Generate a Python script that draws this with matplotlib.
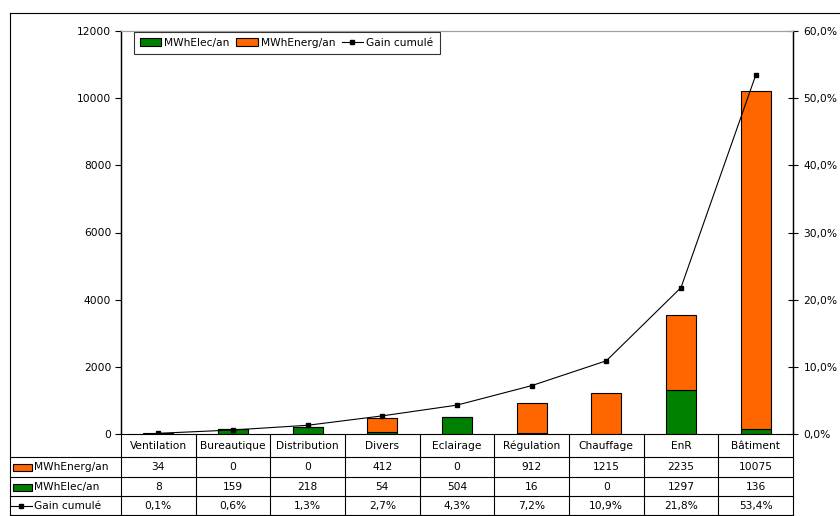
import numpy as np
import matplotlib.pyplot as plt
from matplotlib.lines import Line2D
from matplotlib.patches import Patch, Rectangle
from matplotlib.transforms import blended_transform_factory

categories = ["Ventilation", "Bureautique", "Distribution", "Divers", "Eclairage",
              "Régulation", "Chauffage", "EnR", "Bâtiment"]
mwh_energ = [34, 0, 0, 412, 0, 912, 1215, 2235, 10075]
mwh_elec = [8, 159, 218, 54, 504, 16, 0, 1297, 136]
gain_cumule = [0.1, 0.6, 1.3, 2.7, 4.3, 7.2, 10.9, 21.8, 53.4]

GREEN = "#008000"
ORANGE = "#FF6600"
W, H = 840, 516
FS = 7.7

plt.rcParams["font.family"] = ["DejaVu Sans"]
fig = plt.figure(figsize=(W / 100, H / 100), dpi=100)


def fy(y):
    # pixel row (from top) -> figure fraction
    return 1 - y / H


def fx(x):
    return x / W


x0, x1, ytop, ybot = 121, 793, 31, 434
ax = fig.add_axes([fx(x0), fy(ybot), (x1 - x0) / W, (ybot - ytop) / H])
ax2 = ax.twinx()

x = np.arange(len(categories))
ax.bar(x, mwh_elec, width=0.4, color=GREEN, edgecolor="black", linewidth=0.8,
       label="MWhElec/an", zorder=2)
ax.bar(x, mwh_energ, width=0.4, bottom=mwh_elec, color=ORANGE, edgecolor="black",
       linewidth=0.8, label="MWhEnerg/an", zorder=2)
ax2.plot(x, gain_cumule, color="black", linewidth=0.8, marker="s", markersize=3.2,
         label="Gain cumulé")

ax.set_xlim(-0.5, len(categories) - 0.5)
ax.set_ylim(0, 12000)
ax.set_yticks(range(0, 12001, 2000))
ax.tick_params(axis="y", labelsize=FS, length=4, width=0.8, direction="out", pad=3)
ax.set_xticks([])
ax2.set_ylim(0, 60)
ax2.set_yticks(range(0, 61, 10))
ax2.set_yticklabels([f"{v},0%" for v in range(0, 61, 10)])
ax2.tick_params(axis="y", labelsize=FS, length=7, width=0.8, direction="inout", pad=4)

for a in (ax, ax2):
    a.spines["top"].set_color("#a0a0a0")
    a.spines["bottom"].set_visible(False)
    a.spines["left"].set_linewidth(0.9)
    a.spines["right"].set_linewidth(0.9)
ax.set_zorder(ax2.get_zorder() - 1)
ax2.patch.set_visible(False)

handles = [Patch(facecolor=GREEN, edgecolor="black", linewidth=0.8),
           Patch(facecolor=ORANGE, edgecolor="black", linewidth=0.8),
           Line2D([0], [0], color="black", linewidth=0.8, marker="s", markersize=3)]
leg = ax2.legend(handles, ["MWhElec/an", "MWhEnerg/an", "Gain cumulé"], ncol=3,
                 loc="upper left", bbox_to_anchor=(fx(134), fy(32)),
                 bbox_transform=fig.transFigure, fontsize=FS, frameon=True,
                 fancybox=False, edgecolor="black", handlelength=2.0, handleheight=0.7,
                 handletextpad=0.3, columnspacing=0.6, borderpad=0.55, borderaxespad=0)
leg.get_frame().set_linewidth(0.8)

# data table below the plot
tr = blended_transform_factory(ax.transData, fig.transFigure)
rows = [434, 457, 477, 496, 515]
lw = 0.8
for y in rows[1:]:
    fig.add_artist(Line2D([fx(10), fx(x1)], [fy(y), fy(y)], color="black", lw=lw))
fig.add_artist(Line2D([fx(x0), fx(x1)], [fy(rows[0]), fy(rows[0])], color="black", lw=lw))
for b in np.arange(len(categories) + 1) - 0.5:
    fig.add_artist(Line2D([b, b], [fy(rows[0]), fy(rows[-1])], color="black", lw=lw,
                          transform=tr))
fig.add_artist(Line2D([fx(10), fx(10)], [fy(13), fy(rows[-1])], color="black", lw=lw))
fig.add_artist(Line2D([fx(10), fx(W)], [fy(13), fy(13)], color="black", lw=lw))

row_vals = [categories,
            [str(v) for v in mwh_energ],
            [str(v) for v in mwh_elec],
            [f"{v:.1f}%".replace(".", ",") for v in gain_cumule]]
for r, vals in enumerate(row_vals):
    yc = fy((rows[r] + rows[r + 1]) / 2 + 0.5)
    for i, v in enumerate(vals):
        fig.text(i, yc, v, transform=tr, ha="center", va="center", fontsize=FS)

# row headers with legend keys
for r, (label, kind) in enumerate([("MWhEnerg/an", ORANGE), ("MWhElec/an", GREEN),
                                   ("Gain cumulé", None)], start=1):
    yc = (rows[r] + rows[r + 1]) / 2 + 0.5
    if kind:
        fig.add_artist(Rectangle((fx(13), fy(yc + 3.5)), 19 / W, 7 / H,
                                 facecolor=kind, edgecolor="black", lw=0.8,
                                 transform=fig.transFigure))
    else:
        fig.add_artist(Line2D([fx(10), fx(32)], [fy(yc), fy(yc)], color="black", lw=0.8))
        fig.add_artist(Line2D([fx(21)], [fy(yc)], color="black", marker="s",
                              markersize=3, lw=0))
    fig.text(fx(34), fy(yc), label, ha="left", va="center", fontsize=FS)

fig.savefig("out.png", dpi=100)
